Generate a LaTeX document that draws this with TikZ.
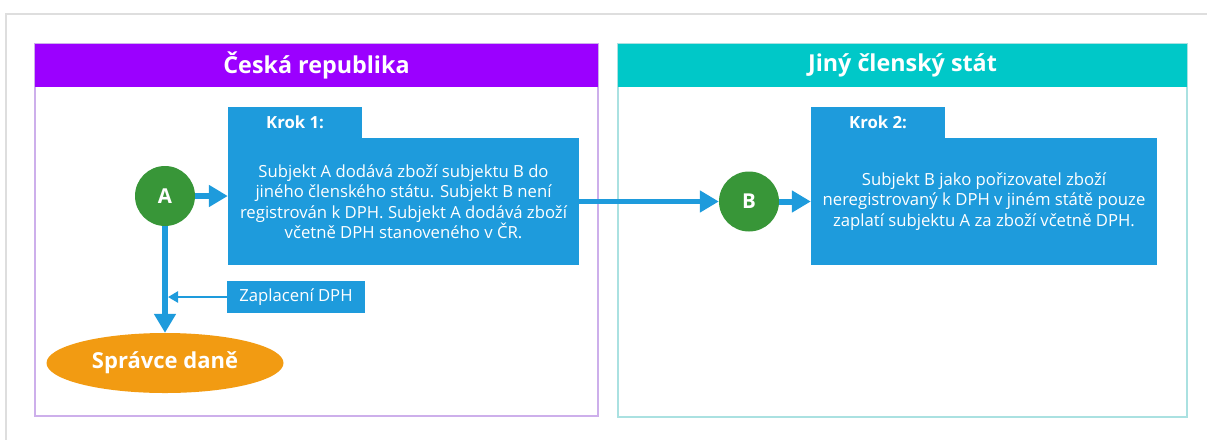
\documentclass[tikz,border=0pt]{standalone}
\usepackage{fontspec}
\setmainfont{Open Sans}
\usetikzlibrary{arrows.meta,shapes.geometric,positioning}

\definecolor{czpurple}{RGB}{155,0,255}
\definecolor{euteal}{RGB}{0,200,200}
\definecolor{boxblue}{RGB}{30,155,220}
\definecolor{partygreen}{RGB}{56,150,56}
\definecolor{taxorange}{RGB}{242,155,18}
\definecolor{czline}{RGB}{205,175,235}
\definecolor{euline}{RGB}{170,225,225}
\definecolor{framegray}{RGB}{222,222,222}

\begin{document}
\begin{tikzpicture}[x=1pt, y=-1pt, >={Triangle[length=19pt,width=21pt]},
  headbar/.style={fill=#1, text=white, font=\fontsize{23.3}{27}\selectfont\bfseries, minimum height=43pt, inner sep=0pt},
  stepbox/.style={fill=boxblue, text=white, font=\fontsize{16.7}{20.5}\selectfont, align=center, minimum width=#1, minimum height=127pt, inner sep=0pt},
  steptab/.style={fill=boxblue, text=white, font=\fontsize{16.7}{20}\selectfont\bfseries, minimum width=134pt, minimum height=31pt, inner sep=0pt, anchor=south west},
  party/.style={circle, fill=partygreen, text=white, font=\fontsize{20.5}{22}\selectfont\bfseries, minimum size=60pt, inner sep=0pt},
  flow/.style={draw=boxblue, line width=6pt, ->},
]
\useasboundingbox (0,0) rectangle (1207,440);

% outer frame
\draw[framegray, line width=2pt] (1207,14) -- (6,14) -- (6,440);

% LEFT PANEL

% Ceska republika
\draw[czline, line width=1.5pt] (35,44) rectangle (598,416);
\node[headbar=czpurple, minimum width=563pt] (czhead) at (316.5,65.5) {Česká republika};

% Krok 1 box with its tab
\node[stepbox=351pt] (krok1) at (403.5,201.5) {Subjekt A dodává zboží subjektu B do\\jiného členského státu. Subjekt B není\\registrován k DPH. Subjekt A dodává zboží\\včetně DPH stanoveného v ČR.};
\node[steptab] (tab1) at ([yshift=-0.5pt]krok1.north west) {Krok 1:};

% subjekt A
\node[party] (A) at (165,196) {A};

% tax office
\node[ellipse, fill=taxorange, text=white, font=\fontsize{22}{26}\selectfont\bfseries, minimum width=237pt, minimum height=60pt, inner sep=0pt] (sprava) at (165,363) {Správce daně};

% payment label
\node[fill=boxblue, text=white, font=\fontsize{16.7}{20}\selectfont, minimum width=138pt, minimum height=32pt, inner sep=0pt] (zapl) at (296,297) {Zaplacení DPH};

% Arrows
\draw[flow] (A.east) -- (A.east -| krok1.west);
\draw[flow] (A.south) -- (sprava.north);
\draw[draw=boxblue, line width=2.5pt, -{Triangle[length=10pt,width=11pt]}] (zapl.west) -- ([xshift=3pt]zapl.west -| A.south);

% RIGHT PANEL

% Jiny clensky stat
\draw[euline, line width=1.5pt] (618,44) rectangle (1187,417);
\node[headbar=euteal, minimum width=569pt] (euhead) at (902.5,65.5) {Jiný členský stát};

% Krok 2 box with its tab
\node[stepbox=346pt] (krok2) at (984,201.5) {Subjekt B jako pořizovatel zboží\\neregistrovaný k DPH v jiném státě pouze\\zaplatí subjektu A za zboží včetně DPH.};
\node[steptab] (tab2) at ([yshift=-0.5pt]krok2.north west) {Krok 2:};

% subjekt B
\node[party] (B) at (749,201.5) {B};

% Arrows
\draw[flow, line width=5pt] (krok1.east) -- (B.west);
\draw[flow] (B.east) -- (krok2.west);

\end{tikzpicture}
\end{document}
